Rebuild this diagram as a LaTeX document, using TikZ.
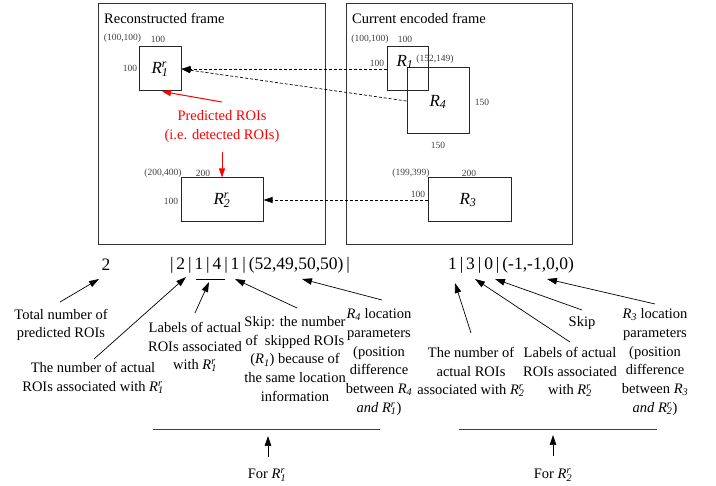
\documentclass[tikz,border=0pt]{standalone}
\usepackage{fontspec}
\setmainfont{Liberation Serif}
\usetikzlibrary{arrows.meta,calc}
\newcommand\RRr[2]{\textit{R}\rlap{\textsuperscript{\textit{#2}}}\textsubscript{\textit{#1}}}
\newcommand\RRs[1]{\textit{R}\textsubscript{\textit{#1}}}
\tikzset{
  frame/.style={draw=black!80, line width=0.9pt},
  roi/.style={draw=black!85, line width=1pt, inner sep=0pt},
  small/.style={font=\fontsize{9.5}{11}\selectfont, inner sep=0pt, text=black!75},
  rlab/.style={font=\fontsize{17}{19}\selectfont, inner sep=0pt},
  ann/.style={font=\fontsize{14.5}{18.8}\selectfont, align=center, inner sep=0pt},
  code/.style={font=\fontsize{17.5}{20}\selectfont, inner sep=0pt},
  dashconn/.style={dashed, dash pattern=on 3pt off 2pt, line width=0.7pt, -{Triangle[length=9pt,width=6pt]}},
  redarr/.style={draw=red, line width=1pt, -{Triangle[length=9pt,width=6pt]}},
  blkarr/.style={line width=0.7pt, -{Triangle[length=10pt,width=6.5pt]}},
}
\begin{document}
\begin{tikzpicture}[x=1pt,y=-1pt]
\useasboundingbox (0,0) rectangle (716,486);
% frames
\node[frame, minimum width=227pt, minimum height=241pt, inner sep=0pt] (lf) at (211.5,123.5) {};
\node[frame, minimum width=226pt, minimum height=241pt, inner sep=0pt] (rf) at (459,123.5) {};
\node[ann, anchor=west] (lft) at (104,18) {Reconstructed frame};
\node[ann, anchor=west] (rft) at (352,18) {Current encoded frame};
% left ROIs
\node[roi, minimum width=42pt, minimum height=44pt] (R1p) at (160,69) {};
\node[rlab] (R1pl) at (160,69) {\RRr{1}{r}};
\node[small] (a1) at (122.5,38) {(100,100)};
\node[small] (a2) at (158,39) {100};
\node[small] (a3) at (130,68) {100};
\node[roi, minimum width=82pt, minimum height=44pt] (R2p) at (222,200) {};
\node[rlab] (R2pl) at (222,200) {\RRr{2}{r}};
\node[small] (b1) at (163,173) {(200,400)};
\node[small] (b2) at (203,173) {200};
\node[small] (b3) at (171,201) {100};
\node[font=\fontsize{14.5}{19}\selectfont, align=center, inner sep=0pt, text=red] (pred) at (222,127) {Predicted ROIs\\(i.e. detected ROIs)};
\coordinate (p1) at (222,102);
\coordinate (p2) at (222,152);
\draw[redarr] (p1) -- ($(R1p.south)+(2,0)$);
\draw[redarr] (p2) -- (R2p.north);
% right ROIs
\node[roi, minimum width=41pt, minimum height=44pt] (R1) at (407.5,69) {};
\node[roi, minimum width=62pt, minimum height=66pt] (R4) at (438,101) {};
\node[rlab] (R1l) at (405,62) {\RRs{1}};
\node[rlab] (R4l) at (438,102) {\RRs{4}};
\node[small] (c1) at (370,39) {(100,100)};
\node[small] (c2) at (405,39) {100};
\node[small] (c3) at (377,63) {100};
\node[small] (c4) at (435,59) {(152,149)};
\node[small] (c5) at (482,102) {150};
\node[small] (c6) at (438,145) {150};
\node[roi, minimum width=83pt, minimum height=44pt] (R3) at (469.5,200) {};
\node[rlab] (R3l) at (468,200) {\RRs{3}};
\node[small] (d1) at (411,173) {(199,399)};
\node[small] (d2) at (469,173) {200};
\node[small] (d3) at (418,194) {100};
% dashed connections
\draw[dashconn] (R1.west) -- (R1p.east);
\draw[dashconn] (R4.west) -- (R1p.east);
\draw[dashconn] (R3.west) -- (R2p.east);
% code strings
\node[code] (n2) at (106,265) {2};
\node[code] (cs1) at (260,265) {|\,2\,|\,1\,|\,4\,|\,1\,|\,(52,49,50,50)\,|};
\node[code] (cs2) at (511,265) {1\,|\,3\,|\,0\,|\,(-1,-1,0,0)};
\coordinate (u1) at (196,279);
\coordinate (u2) at (225,279);
\draw[line width=0.7pt] (u1) -- (u2);
% annotations
\node[ann] (t1) at (61,325) {Total number of\\predicted ROIs};
\node[ann] (t2) at (93,378) {The number of actual\\ROIs associated with \RRr{1}{r}};
\node[ann] (t3) at (195,347) {Labels of actual\\ROIs associated\\with \RRr{1}{r}};
\node[ann] (t4) at (295,359) {Skip: the number\\of\ \ skipped ROIs\\(\RRs{1}) because of\\the same location\\information};
\node[ann] (t5) at (379,362) {\RRs{4} location\\parameters\\(position\\difference\\between \RRs{4}\\\textit{and} \RRr{1}{r})};
\node[ann] (t6) at (471,372) {The number of\\actual ROIs\\associated with \RRr{2}{r}};
\node[ann] (t7) at (570,372) {Labels of actual\\ROIs associated\\with \RRr{2}{r}};
\node[ann] (t8) at (582,323) {Skip};
\node[ann] (t9) at (655,362) {\RRs{3} location\\parameters\\(position\\difference\\between \RRs{3}\\\textit{and} \RRr{2}{r})};
% arrow endpoints
\coordinate (s1) at (60,302);   \coordinate (e1) at (99,279);
\coordinate (s2) at (94,359);   \coordinate (e2) at (186,277);
\coordinate (s3) at (195,313);  \coordinate (e3) at (209,282);
\coordinate (s4) at (297,308);  \coordinate (e4) at (235,279);
\coordinate (s5) at (382,300);  \coordinate (e5) at (302,279);
\coordinate (s6) at (471,333);  \coordinate (e6) at (455,283);
\coordinate (s7) at (570,342);  \coordinate (e7) at (475,279);
\coordinate (s8) at (582,310);  \coordinate (e8) at (495,279);
\coordinate (s9) at (655,304);  \coordinate (e9) at (547,279);
\foreach \i in {1,...,9} {\draw[blkarr] (s\i) -- (e\i);}
% brackets
\coordinate (bl1) at (153,429); \coordinate (bl2) at (380,429);
\coordinate (br1) at (459,429); \coordinate (br2) at (657,429);
\draw[line width=0.9pt, black!75] (bl1) -- (bl2);
\draw[line width=0.9pt, black!75] (br1) -- (br2);
\node[ann] (f1) at (267,475) {For \RRr{1}{r}};
\node[ann] (f2) at (553,475) {For \RRr{2}{r}};
\coordinate (fa1) at (268,457); \coordinate (fb1) at (268,436);
\coordinate (fa2) at (553,456); \coordinate (fb2) at (553,435);
\draw[blkarr] (fa1) -- (fb1);
\draw[blkarr] (fa2) -- (fb2);
\end{tikzpicture}
\end{document}
